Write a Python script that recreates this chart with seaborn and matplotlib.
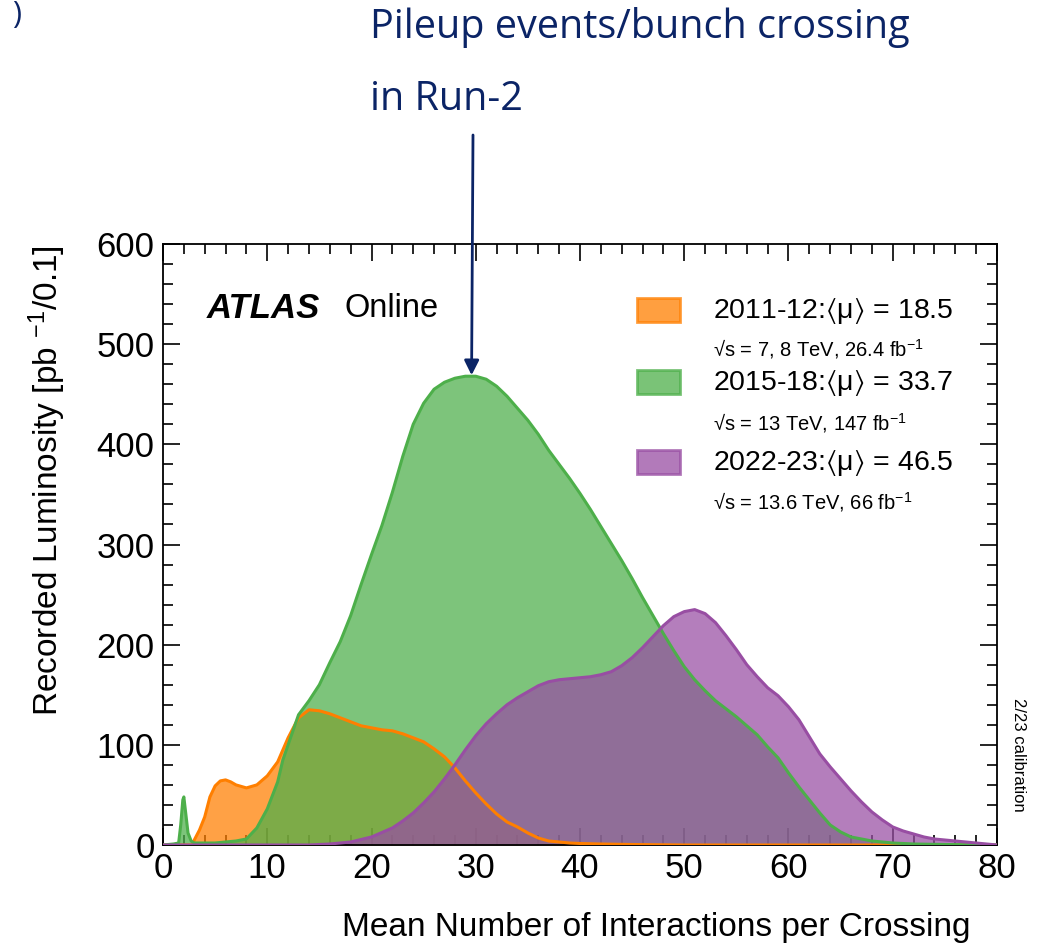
import numpy as np
import pandas as pd
import matplotlib
matplotlib.use("Agg")
import matplotlib.pyplot as plt
from matplotlib.patches import Rectangle
from matplotlib.ticker import MultipleLocator
import seaborn as sns

# ---------------- data ----------------
mu_2011 = [0, 2.8, 3.0, 3.5, 4, 4.5, 5, 5.5, 6, 6.5, 7, 8, 9, 10, 11, 12, 13, 14, 15, 16, 17, 18, 19,
           20, 21, 22, 23, 24, 25, 26, 27, 28, 29, 30, 31, 32, 33, 34, 35, 36, 37, 38, 39, 40, 42,
           45, 50, 80]
lumi_2011 = [0, 0, 5, 15, 28, 48, 59, 64, 65, 63, 60, 57, 60, 69, 83, 107, 127, 135, 134, 131, 127,
             123, 119, 117, 115, 114, 111, 107, 103, 96, 88, 77, 64, 52, 41, 31, 23, 18, 12, 7, 4,
             3, 2, 1.5, 1, 0.5, 0, 0]

mu_2015 = [0, 1, 1.5, 1.7, 1.9, 2.0, 2.2, 2.4, 2.7, 3, 4, 5, 6, 7, 8, 9, 10, 11, 11.5, 12, 13, 14,
           15, 16, 17, 18, 19, 20, 21, 22, 23, 24, 25, 26, 27, 28, 29, 30, 31, 32, 33, 34, 35, 36,
           37, 38, 39, 40, 41, 42, 43, 44, 45, 46, 47, 48, 49, 50, 51, 52, 53, 54, 55, 56, 57, 58,
           59, 60, 61, 62, 63, 64, 65, 66, 67, 68, 69, 70, 72, 75, 80]
lumi_2015 = [0, 1, 2, 20, 45, 48, 30, 12, 4, 2, 2, 2, 3, 4, 6, 17, 36, 63, 85, 100, 130, 144, 160,
             182, 203, 229, 260, 290, 319, 352, 388, 420, 441, 455, 462, 466, 468, 468, 465, 458,
             448, 436, 424, 410, 394, 380, 366, 351, 335, 318, 301, 284, 266, 247, 229, 211, 194,
             178, 165, 154, 144, 136, 128, 119, 110, 98, 87, 72, 58, 45, 32, 20, 13, 8, 6, 4, 3,
             2, 1, 0.5, 0]

mu_2022 = [0, 14, 16, 18, 20, 22, 23, 24, 25, 26, 27, 28, 29, 30, 31, 32, 33, 34, 35, 36, 37, 38,
           39, 40, 41, 42, 43, 44, 45, 46, 47, 48, 49, 50, 51, 52, 53, 54, 55, 56, 57, 58, 59, 60,
           61, 62, 63, 64, 65, 66, 67, 68, 69, 70, 71, 72, 73, 74, 75, 76, 77, 78, 79, 80]
lumi_2022 = [0, 0, 1, 3, 8, 17, 24, 32, 42, 53, 66, 80, 95, 109, 121, 131, 140, 147, 153, 159, 163,
             165, 166, 167, 168, 170, 173, 179, 187, 197, 208, 219, 228, 233, 235, 231, 222, 209,
             195, 180, 168, 157, 149, 138, 125, 108, 91, 78, 66, 54, 43, 33, 25, 18, 14, 11, 8, 6,
             5, 4, 3, 2, 1, 0]

series_labels = [r"2011-12:$\langle\mathrm{\mu}\rangle$ = 18.5",
                 r"2015-18:$\langle\mathrm{\mu}\rangle$ = 33.7",
                 r"2022-23:$\langle\mathrm{\mu}\rangle$ = 46.5"]
series_sub = [r"√s = 7, 8 TeV, 26.4 fb$^{-1}$",
              r"√s = 13 TeV, 147 fb$^{-1}$",
              r"√s = 13.6 TeV, 66 fb$^{-1}$"]
line_colors = ["#ff7f00", "#4daf4a", "#984ea3"]

# ---------------- style ----------------
sns.set_theme(style="ticks")
plt.rcParams["font.family"] = ["Liberation Sans", "DejaVu Sans"]
plt.rcParams["text.color"] = "black"
plt.rcParams["axes.labelcolor"] = "black"
plt.rcParams["xtick.color"] = "black"
plt.rcParams["ytick.color"] = "black"
plt.rcParams["mathtext.fontset"] = "custom"
plt.rcParams["mathtext.rm"] = "Liberation Sans"
plt.rcParams["mathtext.it"] = "Liberation Sans"
plt.rcParams["mathtext.bf"] = "Liberation Sans:bold"
plt.rcParams["mathtext.cal"] = "Liberation Sans"
plt.rcParams["mathtext.fallback"] = "stix"

fig = plt.figure(figsize=(10.48, 9.46), dpi=100)
ax = fig.add_axes([163/1048, 1-845/946, 834/1048, 601/946])

frames = [pd.DataFrame({"mu": m, "lumi": l}) for m, l in
          [(mu_2011, lumi_2011), (mu_2015, lumi_2015), (mu_2022, lumi_2022)]]

# fills
for df, c in zip(frames, line_colors):
    ax.fill_between(df["mu"], df["lumi"], 0, color=c, alpha=0.73, linewidth=0, zorder=2)
# outlines
for df, c in zip(frames, line_colors):
    sns.lineplot(data=df, x="mu", y="lumi", color=c, linewidth=2.2, ax=ax, zorder=3)

ax.set_xlim(0, 80)
ax.set_ylim(0, 600)
ax.xaxis.set_major_locator(MultipleLocator(10))
ax.xaxis.set_minor_locator(MultipleLocator(2))
ax.yaxis.set_major_locator(MultipleLocator(100))
ax.yaxis.set_minor_locator(MultipleLocator(20))
ax.tick_params(which="both", direction="in", top=True, right=True, width=1.2, colors="black",
               labelsize=25)
ax.tick_params(which="major", length=12)
ax.tick_params(which="minor", length=7)
ax.tick_params(axis="y", which="both", pad=6)
ax.tick_params(axis="x", which="both", pad=5)
for s in ax.spines.values():
    s.set_linewidth(1.3)
    s.set_color("black")

ax.set_xlabel("Mean Number of Interactions per Crossing", fontsize=24)
ax.set_ylabel(r"Recorded Luminosity [pb $^{-1}$/0.1]", fontsize=24)
ax.xaxis.set_label_coords(0.592, -0.112)
ax.yaxis.set_label_coords(-0.114, 0.607)

# ATLAS label
ax.text(0.053, 0.893, "ATLAS", transform=ax.transAxes, fontsize=25, fontweight="bold",
        fontstyle="italic", va="center", ha="left")
ax.text(0.218, 0.893, "Online", transform=ax.transAxes, fontsize=23.5, va="center", ha="left")

# legend drawn manually
box_y = [0.870, 0.750, 0.617]
main_y = [0.889, 0.769, 0.636]
sub_y = [0.825, 0.702, 0.571]
for i in range(3):
    ax.add_patch(Rectangle((0.568, box_y[i]), 0.052, 0.040, transform=ax.transAxes,
                           facecolor=line_colors[i], alpha=0.75, edgecolor=line_colors[i],
                           linewidth=2, zorder=5))
    ax.text(0.659, main_y[i], series_labels[i], transform=ax.transAxes, fontsize=20.5,
            va="center", ha="left", zorder=5)
    ax.text(0.659, sub_y[i], series_sub[i], transform=ax.transAxes, fontsize=14.5,
            va="center", ha="left", zorder=5)

# side note
fig.text(1019/1048, 1-755/946, "2/23 calibration", rotation=-90, fontsize=12,
         ha="center", va="center")

# annotation on top
navy = "#0b2466"
fig.text(370/1048, 1-27/946, "Pileup events/bunch crossing", fontsize=28.5, color=navy,
         family=["Open Sans", "DejaVu Sans"], ha="left", va="center")
fig.text(370/1048, 1-100/946, "in Run-2", fontsize=28.5, color=navy,
         family=["Open Sans", "DejaVu Sans"], ha="left", va="center")
fig.text(12/1048, 1.0, ")", fontsize=22, color=navy,
         family=["Open Sans", "DejaVu Sans"], ha="left", va="top")
ax.annotate("", xy=(29.6, 469), xycoords="data",
            xytext=(473/1048, 1-135/946), textcoords="figure fraction",
            arrowprops=dict(arrowstyle="-|>", color=navy, lw=2, mutation_scale=22,
                            shrinkA=0, shrinkB=0), annotation_clip=False, zorder=6)

fig.savefig("out.png", dpi=100)
